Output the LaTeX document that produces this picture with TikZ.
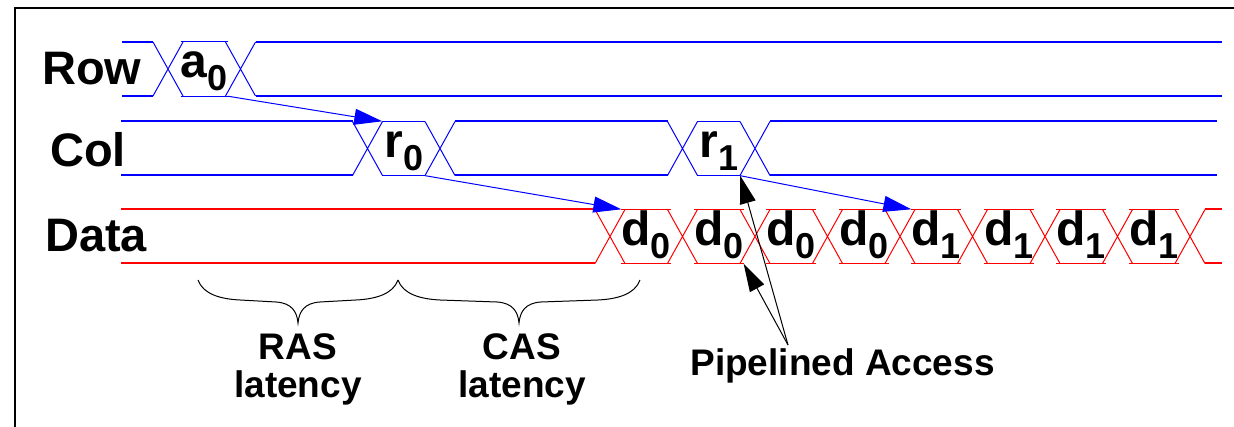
\documentclass[tikz,border=0pt]{standalone}
\usepackage{fontspec}
\setmainfont{Liberation Sans}
\usepackage{tikz}
\usetikzlibrary{arrows.meta}
\tikzset{
  sigline/.style={% idle part of a bus
      line width=2pt,
  },
  valedge/.style={% thin outline of a value box
      line width=1pt,
  },
  valbox/.style={% box that carries a value
      rectangle, inner sep=0pt,
      minimum width=42.5pt, minimum height=54pt,
      text height=27pt, text depth=9pt,
      text=black,
      font=\fontsize{48}{48}\selectfont\bfseries,
  },
  signame/.style={
      anchor=base west, inner sep=0pt,
      font=\fontsize{47}{47}\selectfont\bfseries,
  },
  note/.style={
      align=center, inner sep=0pt, anchor=base,
      font=\fontsize{37}{38}\selectfont\bfseries,
  },
  timing/.style={% blue arrows between the buses
      blue, line width=1pt,
      -{Triangle[length=28pt,width=16pt]},
  },
  pointer/.style={
      black, line width=1pt,
      -{Triangle[length=28pt,width=16pt]},
  },
  brc/.style={black, line width=1pt},
}
\def\lowix#1{\raisebox{-13pt}{\fontsize{36}{36}\selectfont#1}}
\def\buscross#1#2{% crossing of a bus: #1 = x of the cross, #2 = top of the bus
  \draw[valedge] (#1-15,#2) -- (#1+15,#2+54) (#1-15,#2+54) -- (#1+15,#2);
}
\def\busval(#1)(#2)#3{% value box plus its top and bottom edge
  \node[valbox] (#1) at (#2) {#3};
  \draw[valedge] (#1.north west) -- (#1.north east) (#1.south west) -- (#1.south east);
}

\begin{document}
\begin{tikzpicture}[x=1pt, y=-1pt]
  \useasboundingbox (0,0) rectangle (1234,427);
  \draw[line width=1.6pt] (15,427) -- (15,8) -- (1234,8);

  \node[signame] (rowname) at (42,85) {Row};
  \node[signame] (colname) at (50,167) {Col};
  \node[signame] (dataname) at (45,252) {Data};

  % row address bus
  \begin{scope}[blue]
    \draw[sigline] (122,42) -- (153,42) (122,96) -- (153,96)
      (255.5,42) -- (1222,42) (255.5,96) -- (1222,96);
    \foreach \c in {168,240.5} {\buscross{\c}{42}}
    \busval(a0)(204.25,69){a\lowix{0}}
  \end{scope}

  % column address bus
  \begin{scope}[blue]
    \draw[sigline] (121,121.5) -- (352.5,121.5) (121,175.5) -- (352.5,175.5)
      (455,121.5) -- (667.5,121.5) (455,175.5) -- (667.5,175.5)
      (770,121.5) -- (1217,121.5) (770,175.5) -- (1217,175.5);
    \foreach \c in {367.5,440,682.5,755} {\buscross{\c}{121.5}}
    \busval(r0)(403.75,148.5){r\lowix{0}}
    \busval(r1)(718.75,148.5){r\lowix{1}}
  \end{scope}

  % data bus
  \begin{scope}[red]
    \draw[sigline] (121,209.5) -- (595,209.5) (121,263.5) -- (595,263.5)
      (1205,209.5) -- (1222,209.5) (1205,263.5) -- (1222,263.5);
    \foreach \k in {0,...,8} {\buscross{610+72.5*\k}{209.5}}
    \foreach \v [count=\k from 0] in {0,0,0,0,1,1,1,1} {%
      \busval(d\k)(646.25+72.5*\k,236.5){d\lowix{\v}}
    }
  \end{scope}

  \draw[timing] (a0.south east) -- (r0.north west);
  \draw[timing] (r0.south east) -- (d0.north west);
  \draw[timing] (r1.south east) -- (d4.north west);

  % latency braces
  \foreach \xa/\xb in {198/398, 398/640} {
    \pgfmathsetmacro\xm{(\xa+\xb)/2}
    \draw[brc] (\xa,280) .. controls (\xa+5,294) and (\xa+22,299) .. (\xa+42,300)
      -- (\xm-22,302) .. controls (\xm-6,303) and (\xm-1,312) .. (\xm,323)
      .. controls (\xm+1,312) and (\xm+6,303) .. (\xm+22,302)
      -- (\xb-42,300) .. controls (\xb-22,299) and (\xb-5,294) .. (\xb,280);
  }
  \node[note] (ras) at (298,398) {RAS\\latency};
  \node[note] (cas) at (522,398) {CAS\\latency};

  \node[note] (pipe) at (842.5,376) {Pipelined Access};
  \coordinate (fork) at (788,345);
  \draw[pointer] (fork) -- (r1.south east);
  \draw[pointer] (fork) -- (d1.south east);
\end{tikzpicture}
\end{document}
